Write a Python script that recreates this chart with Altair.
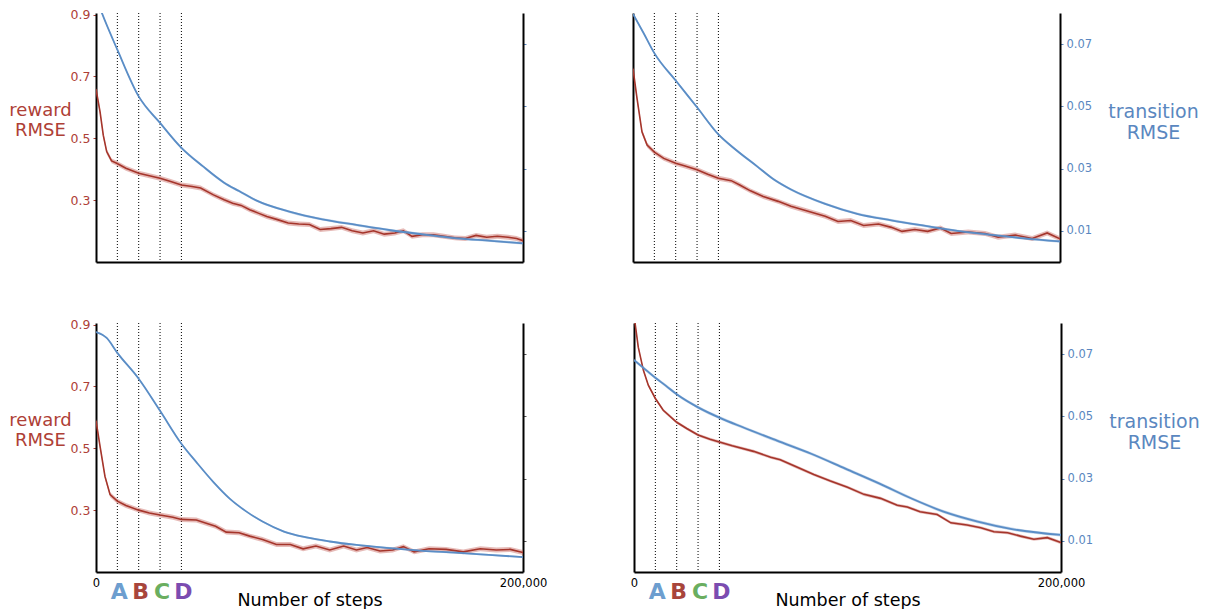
import altair as alt
import pandas as pd

# ---------------- data ----------------
MARKER_STEPS = [10000, 20000, 30000, 40000]
MARKER_LETTERS = ["A", "B", "C", "D"]
MARKER_COLORS = ["#6d9ecf", "#a8453b", "#6aae60", "#7b4cb0"]

REWARD_TICKS = [0.3, 0.5, 0.7, 0.9]
TRANS_TICKS = [0.01, 0.03, 0.05, 0.07]
X_TICKS = [0, 200000]

# top-left panel
tl_reward_steps = [0, 1900, 3400, 5000, 7300, 9700, 14000, 20000, 25000, 30000, 35000, 40000, 45000, 49000,
                   55000, 60000, 64000, 68000, 72000, 76000, 80000, 85000, 90000, 95000, 100000, 105000,
                   110000, 115000, 120000, 125000, 130000, 135000, 140000, 144000, 148000, 153000, 158000,
                   163000, 168000, 173000, 178000, 183000, 188000, 193000, 197000, 200000]
tl_reward = [0.6585, 0.585, 0.51, 0.457, 0.427, 0.419, 0.403, 0.387, 0.379, 0.371, 0.36, 0.349, 0.344, 0.339,
             0.317, 0.301, 0.29, 0.283, 0.269, 0.258, 0.247, 0.237, 0.226, 0.223, 0.221, 0.205,
             0.208, 0.212, 0.201, 0.194, 0.201, 0.19, 0.194, 0.201, 0.183, 0.188, 0.188,
             0.183, 0.178, 0.176, 0.186, 0.18, 0.183, 0.18, 0.176, 0.169]
tl_trans_steps = [0, 2700, 10000, 20000, 30000, 40000, 50000, 60000, 67000, 75000, 91000, 106000, 122000,
                  138000, 153000, 169000, 185000, 200000]
tl_trans = [0.085, 0.0801, 0.0682, 0.0532, 0.0447, 0.0367, 0.0308, 0.0255, 0.0228, 0.0198, 0.0161, 0.0137,
            0.0119, 0.0102, 0.0089, 0.0076, 0.0068, 0.006]

# top-right panel
tr_reward_steps = [0, 1900, 4200, 6600, 10000, 14400, 20000, 24000, 30000, 35000, 40000, 46000, 50000, 55000,
                   61000, 68000, 74000, 82000, 90000, 96000, 102000, 108000, 115000, 121000, 126000, 132000,
                   138000, 144000, 149000, 157000, 165000, 171000, 179000, 187000, 194000, 200000]
tr_reward = [0.725, 0.628, 0.521, 0.478, 0.455, 0.435, 0.419, 0.411, 0.398, 0.384, 0.371, 0.363, 0.349, 0.33,
             0.312, 0.296, 0.28, 0.264, 0.248, 0.231, 0.234, 0.218, 0.223, 0.212, 0.199, 0.205,
             0.199, 0.21, 0.192, 0.197, 0.192, 0.18, 0.187, 0.176, 0.194, 0.175]
tr_trans_steps = [0, 5000, 10000, 20000, 30000, 40000, 47000, 58000, 66000, 74000, 90000, 105000, 121000,
                  137000, 152000, 168000, 183000, 200000]
tr_trans = [0.0797, 0.0735, 0.0671, 0.0583, 0.0497, 0.041, 0.0367, 0.0308, 0.0265, 0.0233, 0.0187, 0.0155,
            0.0134, 0.0116, 0.01, 0.0087, 0.0076, 0.0066]

# bottom-left panel
bl_reward_steps = [0, 1900, 4200, 6600, 10000, 14000, 20000, 25000, 30000, 36000, 40000, 47000, 52000, 56000,
                   61000, 67000, 72000, 78000, 84500, 91000, 97000, 103000, 109500, 116000, 122000, 127000,
                   133000, 139000, 144000, 149000, 156000, 164000, 172000, 180000, 187500, 194000, 200000]
bl_reward = [0.589, 0.506, 0.409, 0.35, 0.329, 0.315, 0.3, 0.291, 0.284, 0.277, 0.27, 0.268, 0.257, 0.248,
             0.229, 0.227, 0.216, 0.205, 0.189, 0.189, 0.175, 0.184, 0.171, 0.184, 0.171, 0.179,
             0.168, 0.171, 0.182, 0.165, 0.175, 0.173, 0.165, 0.175, 0.171, 0.173, 0.163]
bl_trans_steps = [0, 5000, 10000, 20000, 30000, 40000, 47000, 55000, 62600, 70500, 78000, 88000, 98600,
                  109500, 122000, 137600, 153000, 168500, 184000, 200000]
bl_trans = [0.0771, 0.0752, 0.0704, 0.0621, 0.0518, 0.0412, 0.0353, 0.0289, 0.0236, 0.0194, 0.0162, 0.013,
            0.0111, 0.0098, 0.0087, 0.0077, 0.0068, 0.0062, 0.0055, 0.0048]

# bottom-right panel
br_reward_steps = [0, 2000, 4400, 6700, 10000, 13700, 20000, 24700, 30000, 35600, 40000, 46000, 56000, 64000,
                   68500, 76000, 84200, 92000, 100000, 107700, 115500, 123300, 128000, 134000, 142000, 148400,
                   156000, 162400, 168600, 175000, 181000, 187300, 193600, 200000]
br_reward = [0.93, 0.827, 0.752, 0.704, 0.661, 0.623, 0.584, 0.564, 0.543, 0.529, 0.52, 0.508, 0.49, 0.471,
             0.463, 0.44, 0.415, 0.394, 0.374, 0.351, 0.338, 0.316, 0.31, 0.295, 0.286, 0.259,
             0.252, 0.243, 0.23, 0.227, 0.216, 0.206, 0.211, 0.195]
br_trans_steps = [0, 4400, 10000, 15000, 20000, 30000, 40000, 51000, 67000, 83000, 99000, 115000, 130000,
                  145000, 161000, 177000, 200000]
br_trans = [0.0681, 0.0656, 0.0624, 0.0598, 0.0571, 0.0529, 0.0496, 0.0465, 0.0422, 0.038, 0.0332, 0.0284,
            0.0236, 0.0194, 0.0162, 0.0138, 0.0119]

# standard-error half widths of the shaded bands (one per panel: TL, TR, BL, BR)
reward_err = [0.008, 0.008, 0.008, 0.005]
trans_err = [0.0004, 0.0004, 0.0003, 0.0005]

# ---------------- styling ----------------
W, H = 427, 249
RED_LINE = "#a5352b"
RED_BAND = "#c0564d"
RED_TEXT = "#ae4036"
BLUE_LINE = "#5a8dc6"
BLUE_TEXT = "#5a87c0"
FONT = "DejaVu Sans"


def panel(r_steps, r_vals, r_err, b_steps, b_vals, b_err, left, bottom, right_tick_color):
    red_df = pd.DataFrame({"step": r_steps, "v": r_vals})
    red_df["lo"] = red_df["v"] - r_err
    red_df["hi"] = red_df["v"] + r_err
    blue_df = pd.DataFrame({"step": b_steps, "v": b_vals})
    blue_df["lo"] = blue_df["v"] - b_err
    blue_df["hi"] = blue_df["v"] + b_err

    x_kw = dict(values=X_TICKS, format=",.0f", labels=bottom, ticks=False, domainColor="black",
                domainWidth=2, grid=False, labelFontSize=11.5, labelPadding=5, labelColor="black",
                labelFlush=False, titleFontSize=17.5, titlePadding=3, titleFontWeight="normal",
                titleColor="black")
    x_kw["title"] = "Number of steps" if bottom else None
    x = alt.X("step:Q", scale=alt.Scale(domain=[0, 200000], nice=False, zero=False), axis=alt.Axis(**x_kw))

    red_scale = alt.Scale(domain=[0.1, 0.905], nice=False, zero=False)
    if left:
        red_axis = alt.Axis(orient="left", values=REWARD_TICKS, format=".1f", labelColor=RED_TEXT,
                            tickColor=RED_TEXT, tickSize=3, labelPadding=3, labelFontSize=12.5,
                            domainColor="black", domainWidth=2, grid=False,
                            title=["reward", "RMSE"], titleAngle=0, titleColor=RED_TEXT,
                            titleFontSize=18, titleFontWeight="normal", titleX=-56, titleY=102,
                            titleAlign="center", titleBaseline="alphabetic", titleLineHeight=20)
    else:
        red_axis = alt.Axis(orient="left", labels=False, ticks=False, domainColor="black",
                            domainWidth=2, grid=False, title=None)

    blue_scale = alt.Scale(domain=[0, 0.08], nice=False, zero=False)
    if not left:
        blue_axis = alt.Axis(orient="right", values=TRANS_TICKS, format=".2f", labelColor=BLUE_TEXT,
                             tickColor=BLUE_TEXT, tickSize=3, labelPadding=3, labelFontSize=11.5,
                             domainColor="black", domainWidth=2, grid=False,
                             title=["transition", "RMSE"], titleAngle=0, titleColor=BLUE_TEXT,
                             titleFontSize=19, titleFontWeight="normal", titleX=93, titleY=104,
                             titleAlign="center", titleBaseline="alphabetic", titleLineHeight=21)
    else:
        blue_axis = alt.Axis(orient="right", values=TRANS_TICKS, labels=False, tickColor=right_tick_color,
                             tickSize=3, domainColor="black", domainWidth=2, grid=False, title=None)

    rules = alt.Chart(pd.DataFrame({"step": MARKER_STEPS})).mark_rule(
        color="black", strokeDash=[1, 2], strokeWidth=1
    ).encode(x=x, y=alt.value(0), y2=alt.value(H))

    r_band = alt.Chart(red_df).mark_area(color=RED_BAND, opacity=0.4, clip=True).encode(
        x=x, y=alt.Y("lo:Q", scale=red_scale, axis=red_axis), y2="hi:Q")
    r_line = alt.Chart(red_df).mark_line(color=RED_LINE, strokeWidth=1.6, clip=True).encode(
        x=x, y=alt.Y("v:Q", scale=red_scale, axis=red_axis))
    red_layers = [rules, r_band, r_line]
    if bottom:
        letters_df = pd.DataFrame({"step": MARKER_STEPS, "letter": MARKER_LETTERS, "color": MARKER_COLORS})
        letters = alt.Chart(letters_df).mark_text(
            fontSize=22, fontWeight="bold", baseline="alphabetic", align="center", dx=2, font=FONT
        ).encode(x=x, y=alt.value(H + 27), text="letter:N", color=alt.Color("color:N", scale=None))
        red_layers.append(letters)
    red = alt.layer(*red_layers)

    b_band = alt.Chart(blue_df).mark_area(color=BLUE_LINE, opacity=0.35, clip=True,
                                          interpolate="monotone").encode(
        x=x, y=alt.Y("lo:Q", scale=blue_scale, axis=blue_axis), y2="hi:Q")
    b_line = alt.Chart(blue_df).mark_line(color=BLUE_LINE, strokeWidth=1.8, clip=True,
                                          interpolate="monotone").encode(
        x=x, y=alt.Y("v:Q", scale=blue_scale, axis=blue_axis))
    blue = alt.layer(b_band, b_line)

    return alt.layer(red, blue).resolve_scale(y="independent").properties(width=W, height=H)


tl = panel(tl_reward_steps, tl_reward, reward_err[0], tl_trans_steps, tl_trans, trans_err[0], True, False, BLUE_TEXT)
tr = panel(tr_reward_steps, tr_reward, reward_err[1], tr_trans_steps, tr_trans, trans_err[1], False, False, BLUE_TEXT)
bl = panel(bl_reward_steps, bl_reward, reward_err[2], bl_trans_steps, bl_trans, trans_err[2], True, True, "#555555")
br = panel(br_reward_steps, br_reward, reward_err[3], br_trans_steps, br_trans, trans_err[3], False, True, BLUE_TEXT)

top_row = alt.hconcat(tl, tr, spacing=106)
bottom_row = alt.hconcat(bl, br, spacing=83)

chart = alt.vconcat(top_row, bottom_row, spacing=55).properties(
    padding={"left": 0, "top": 0, "right": 0, "bottom": 0}
).configure_view(stroke=None).configure_axis(labelFont=FONT, titleFont=FONT)

chart.save("out.html", embed_options={"renderer": "svg", "actions": False})
